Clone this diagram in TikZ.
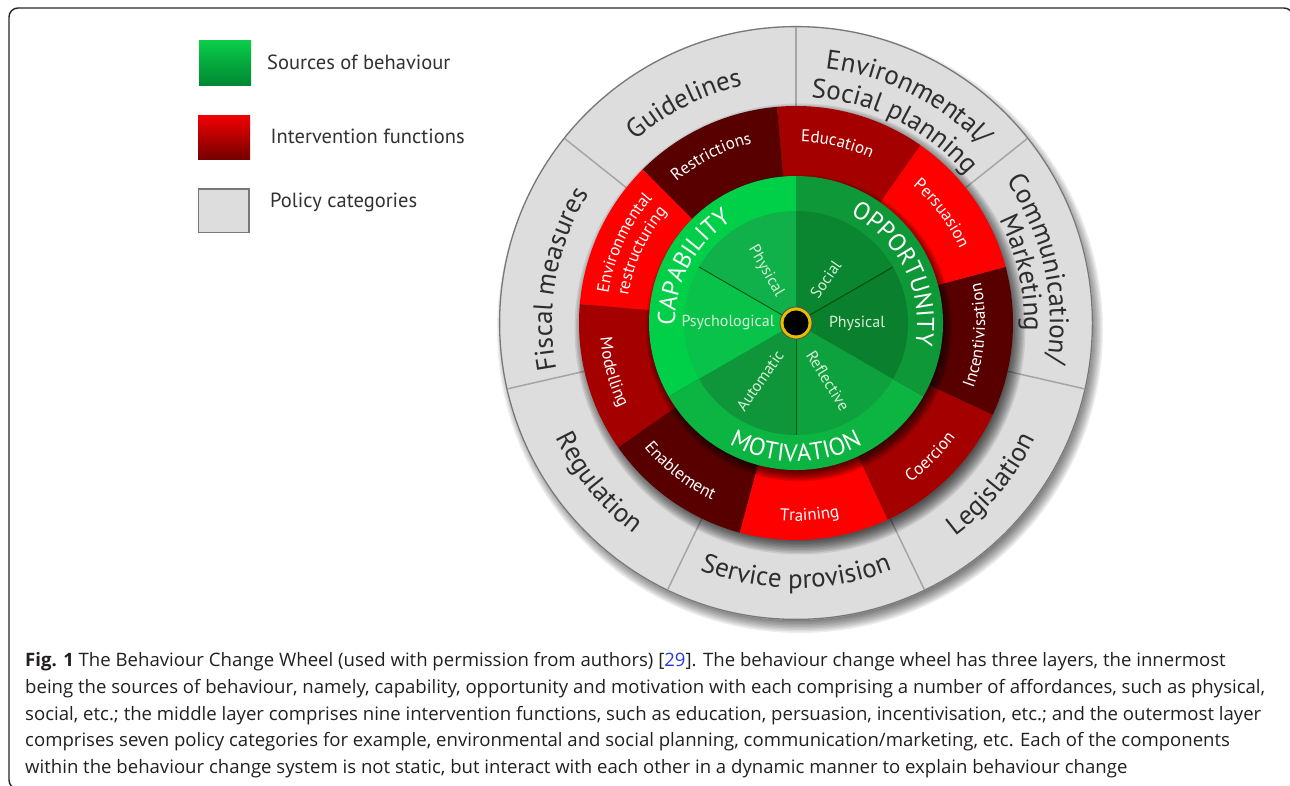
\documentclass[tikz,border=0pt]{standalone}
\usepackage{fontspec}
\usepackage{graphicx}
\usetikzlibrary{decorations.text}
\newfontfamily\wf{PT Sans}
\newfontfamily\cf{Open Sans}
\definecolor{greyring}{RGB}{221,221,221}
\definecolor{greyedge}{RGB}{120,120,120}
\definecolor{greydiv}{RGB}{165,165,165}
\definecolor{greytxt}{RGB}{45,45,45}
\definecolor{redB}{RGB}{255,0,0}
\definecolor{redM}{RGB}{165,0,0}
\definecolor{redD}{RGB}{88,0,0}
\definecolor{capO}{RGB}{0,208,72}
\definecolor{capP}{RGB}{16,176,74}
\definecolor{capS}{RGB}{8,194,74}
\definecolor{oppO}{RGB}{14,152,56}
\definecolor{oppS}{RGB}{10,134,48}
\definecolor{oppP}{RGB}{10,128,46}
\definecolor{motO}{RGB}{12,180,66}
\definecolor{motA}{RGB}{16,150,58}
\definecolor{motR}{RGB}{14,162,62}
\definecolor{innertxt}{RGB}{215,240,215}
\definecolor{dotyellow}{RGB}{232,190,0}
\definecolor{captxt}{RGB}{35,31,32}
\definecolor{reflink}{RGB}{40,60,220}
\definecolor{legtxt}{RGB}{50,50,50}
\newcommand\gfnt{\wf\fontsize{27}{27}\selectfont}
\newcommand\rfnt{\wf\fontsize{17}{17}\selectfont}
\newcommand\Gfnt{\wf\fontsize{24.5}{24.5}\selectfont}
\newcommand\capfont{\cf\fontsize{18.5}{22}\selectfont}
\newcommand\cwtext[5]{\path[decorate,decoration={text along path,text align=center,text color=#4,text={|#3|#5}}] ({#1+70}:#2) arc[start angle={#1+70},end angle={#1-70},radius=#2];}
\newcommand\ccwtext[5]{\path[decorate,decoration={text along path,text align=center,text color=#4,text={|#3|#5}}] ({#1-70}:#2) arc[start angle={#1-70},end angle={#1+70},radius=#2];}
\newsavebox\capbox
\newlength\capw
\tikzset{
  legl/.style={anchor=base west,inner sep=0pt,font=\wf\fontsize{20.5}{22}\selectfont,text=legtxt},
  capl/.style={anchor=base west,inner sep=0pt,font=\capfont,text=captxt},
  inl/.style={inner sep=0pt,font=\wf\fontsize{16}{16}\selectfont,text=innertxt}
}
\begin{document}
\sbox\capbox{\capfont being the sources of behaviour, namely, capability, opportunity and motivation with each comprising a number of affordances, such as physical,}%
\setlength\capw{\wd\capbox}%
\pgfmathsetmacro\capsx{1240pt/\capw}%
\begin{tikzpicture}[x=1pt,y=1pt]
\clip (0,0) rectangle (1290,785);
\fill[white] (0,0) rectangle (1290,785);
% frame
\draw[line width=1.4pt,black!85,rounded corners=9pt] (9,-4) rectangle (1293,777);
% legend
\shade[top color={rgb,255:red,10;green,204;blue,72},bottom color={rgb,255:red,0;green,134;blue,50}] (199,699) rectangle (251,744);
\shade[top color={rgb,255:red,240;green,0;blue,0},bottom color={rgb,255:red,115;green,0;blue,0}] (198,625) rectangle (250,669);
\draw[fill=greyring,draw=greyedge,line width=1.2pt] (198.5,552.5) rectangle (249,596);
\node[legl] (l1) at (267,715.7) {Sources of behaviour};
\node[legl] (l2) at (270.5,641.7) {Intervention functions};
\node[legl] (l3) at (270,577) {Policy categories};
% wheel
\begin{scope}[shift={(796,462)}]
\foreach \k in {0,...,10} \fill[black,fill opacity=0.07] (4,-7) circle ({288+\k*1.5});
\fill[greyring] (0,0) circle (297);
\draw[greyedge,line width=1.3pt] (0,0) circle (296.4);
\foreach \a in {90,38.57,-12.86,-64.29,-115.71,-167.14,141.43}
  \draw[greydiv,line width=1.5pt] (\a:217) -- (\a:296);
\foreach \k in {0,...,9} \fill[black,fill opacity=0.09] (4,-6) circle ({212+\k*1.5});
\foreach \s/\c in {55/redM,95/redD,135/redB,175/redM,215/redD,255/redB,295/redM,335/redD,15/redB}
  \fill[\c] (0,0) -- (\s:217) arc[start angle=\s,end angle=\s+40,radius=217] -- cycle;
\foreach \k in {0,...,8} \fill[black,fill opacity=0.1] (3,-5) circle ({143+\k*1.3});
\fill[capO] (0,0) -- (90:147) arc[start angle=90,end angle=210,radius=147] -- cycle;
\fill[oppO] (0,0) -- (-30:147) arc[start angle=-30,end angle=90,radius=147] -- cycle;
\fill[motO] (0,0) -- (210:147) arc[start angle=210,end angle=330,radius=147] -- cycle;
\fill[capP] (0,0) -- (90:112) arc[start angle=90,end angle=150,radius=112] -- cycle;
\fill[capS] (0,0) -- (150:112) arc[start angle=150,end angle=210,radius=112] -- cycle;
\fill[motA] (0,0) -- (210:112) arc[start angle=210,end angle=270,radius=112] -- cycle;
\fill[motR] (0,0) -- (270:112) arc[start angle=270,end angle=330,radius=112] -- cycle;
\fill[oppP] (0,0) -- (-30:112) arc[start angle=-30,end angle=30,radius=112] -- cycle;
\fill[oppS] (0,0) -- (30:112) arc[start angle=30,end angle=90,radius=112] -- cycle;
\foreach \a in {30,150,270} \draw[line width=1pt,black!80!green,opacity=0.7] (\a:14) -- (\a:112);
\fill[dotyellow] (0,0) circle (16);
\draw[black!70,line width=0.8pt] (0,0) circle (16);
\fill[black] (0,0) circle (12.5);
% policy labels
\cwtext{117}{243}{\gfnt}{greytxt}{Guidelines}
\cwtext{169.5}{244}{\gfnt}{greytxt}{Fiscal measures}
\ccwtext{219}{266}{\gfnt}{greytxt}{Regulation}
\ccwtext{270}{265}{\gfnt}{greytxt}{Service provision}
\ccwtext{320.5}{266}{\gfnt}{greytxt}{Legislation}
\cwtext{12.5}{254}{\gfnt}{greytxt}{Communication/}
\cwtext{12.5}{228}{\gfnt}{greytxt}{Marketing}
\cwtext{63.5}{256}{\gfnt}{greytxt}{Environmental/}
\cwtext{63.5}{226}{\gfnt}{greytxt}{Social planning}
% intervention labels
\cwtext{77}{181}{\rfnt}{white}{Education}
\cwtext{37}{180}{\rfnt}{white}{Persuasion}
\ccwtext{-4}{189}{\rfnt}{white}{Incentivisation}
\ccwtext{-45}{196}{\rfnt}{white}{Coercion}
\ccwtext{-86}{198}{\rfnt}{white}{Training}
\ccwtext{-128}{196}{\rfnt}{white}{Enablement}
\ccwtext{195}{196}{\rfnt}{white}{Modelling}
\cwtext{155}{190}{\rfnt}{white}{Environmental}
\cwtext{155}{170}{\rfnt}{white}{restructuring}
\cwtext{117}{185}{\rfnt}{white}{Restrictions}
% sources labels
\cwtext{151.5}{121}{\Gfnt}{white}{CAPABILITY}
\cwtext{26.5}{121}{\Gfnt}{white}{OPPORTUNITY}
\ccwtext{270}{138.5}{\Gfnt}{white}{MOTIVATION}
\node[inl,rotate=-60] (s1) at (120:60) {Physical};
\node[inl] (s2) at (180:68) {Psychological};
\node[inl,rotate=55] (s3) at (238:68) {Automatic};
\node[inl,rotate=-58] (s4) at (299:66) {Reflective};
\node[inl] (s5) at (0:61) {Physical};
\node[inl,rotate=55] (s6) at (56:53) {Social};
\end{scope}
% caption
\node[capl] (c1) at (25,119) {\scalebox{\capsx}[1]{{\cf\bfseries Fig. 1} The Behaviour Change Wheel (used with permission from authors) [\textcolor{reflink}{29}]. The behaviour change wheel has three layers, the innermost}};
\node[capl] (c2) at (25,92) {\scalebox{\capsx}[1]{being the sources of behaviour, namely, capability, opportunity and motivation with each comprising a number of affordances, such as physical,}};
\node[capl] (c3) at (25,65) {\scalebox{\capsx}[1]{social, etc.; the middle layer comprises nine intervention functions, such as education, persuasion, incentivisation, etc.; and the outermost layer}};
\node[capl] (c4) at (25,38.5) {\scalebox{\capsx}[1]{comprises seven policy categories for example, environmental and social planning, communication/marketing, etc. Each of the components}};
\node[capl] (c5) at (25,12) {\scalebox{\capsx}[1]{within the behaviour change system is not static, but interact with each other in a dynamic manner to explain behaviour change}};
\end{tikzpicture}
\end{document}
